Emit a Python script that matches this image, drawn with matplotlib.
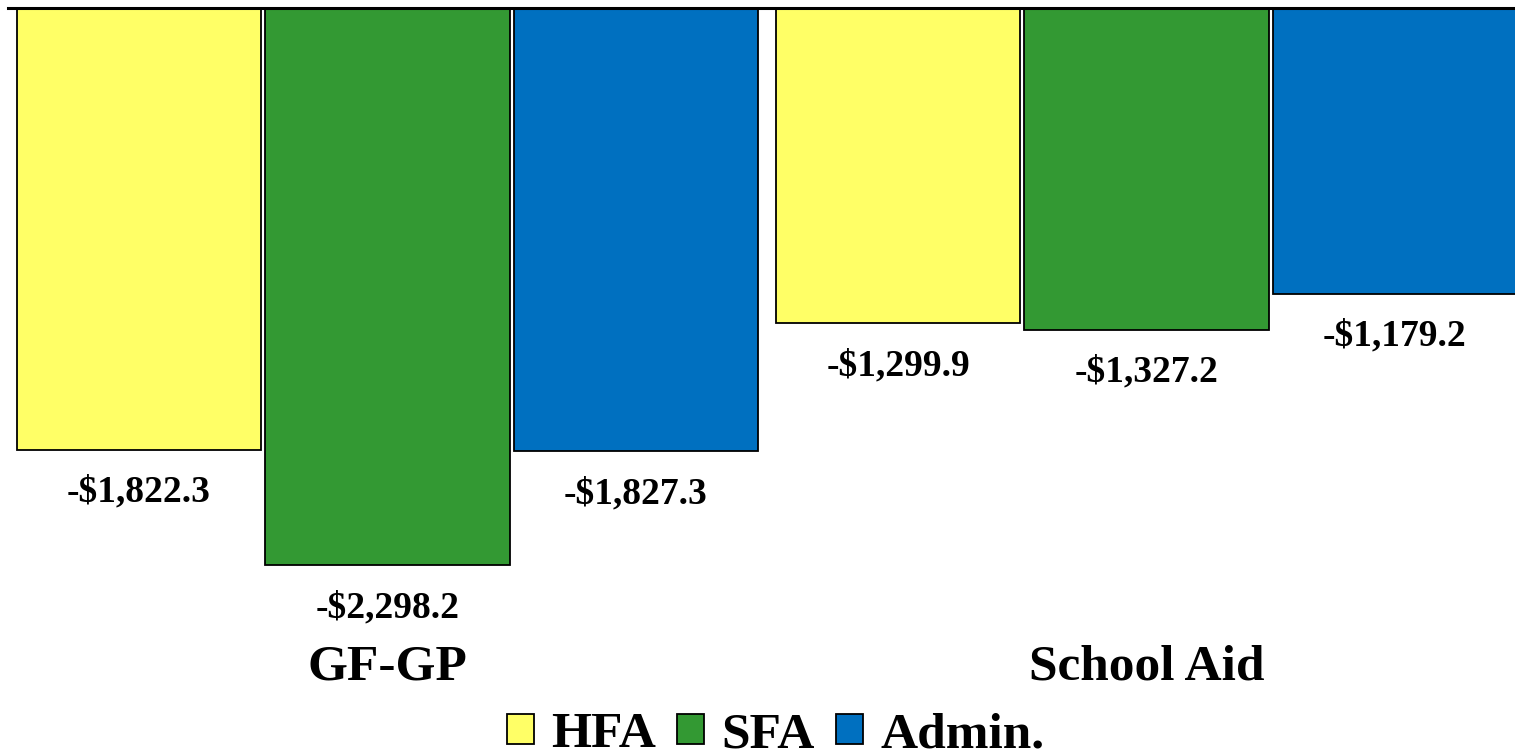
import matplotlib.pyplot as plt
import numpy as np

plt.rcParams['font.family'] = ['Liberation Serif', 'DejaVu Serif']
plt.rcParams['font.weight'] = 'bold'

categories = ["GF-GP", "School Aid"]
series = ["HFA", "SFA", "Admin."]
hfa = [-1822.3, -1299.9]
sfa = [-2298.2, -1327.2]
admin = [-1827.3, -1179.2]
colors = ["#FFFF66", "#339933", "#0070C0"]

fig = plt.figure(figsize=(15.15, 7.51), dpi=100)
ax = fig.add_axes([8 / 1515, 133 / 751, 1 - 8 / 1515, 610 / 751])

x = np.arange(len(categories))
pitch = 0.3274
width = 0.3215
for i, (name, vals, c) in enumerate(zip(series, [hfa, sfa, admin], colors)):
    pos = x + (i - 1) * pitch
    bars = ax.bar(pos, vals, width, color=c, edgecolor="black", linewidth=1.3, label=name)
    for b, v in zip(bars, vals):
        ax.annotate("-${:,.1f}".format(-v), (b.get_x() + b.get_width() / 2, v),
                    xytext=(0, -25), textcoords="offset pixels",
                    ha="center", va="top", fontsize=27, fontweight="bold")

ax.set_xlim(-0.5, (1515 - 387.5) / 759)
ax.set_ylim(-610 / 0.2425, 0)
ax.set_xticks(x)
ax.set_xticklabels(categories, fontsize=37, fontweight="bold")
ax.tick_params(axis="x", length=0, pad=19)
ax.set_yticks([])
for s in ["left", "right", "bottom"]:
    ax.spines[s].set_visible(False)
ax.spines["top"].set_linewidth(2.2)

fig.legend(loc="lower center", bbox_to_anchor=(0.512, -0.071), ncol=3, frameon=False,
           handlelength=0.525, handleheight=0.525, handletextpad=0.33,
           columnspacing=0.42, prop={"weight": "bold", "size": 37})

fig.savefig("out.png", dpi=100)
